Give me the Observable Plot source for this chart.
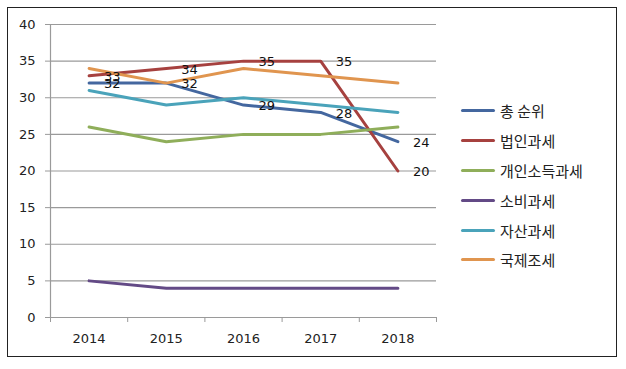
<!DOCTYPE html>
<html>
<head>
<meta charset="utf-8">
<script src="https://cdn.jsdelivr.net/npm/d3@7"></script>
<script src="https://cdn.jsdelivr.net/npm/@observablehq/plot@0.6"></script>
<style>
  html, body { margin: 0; padding: 0; background: #fff; }
  #wrap { position: relative; width: 626px; height: 369px; overflow: hidden; }
  #frame { position: absolute; left: 7px; top: 7px; width: 610px; height: 350px; border: 1.5px solid #222; box-sizing: border-box; pointer-events: none; }
  #legend { position: absolute; left: 461px; top: 96px; font-family: "Noto Sans CJK KR", "DejaVu Sans", sans-serif; font-size: 15px; color: #222; }
  .item { display: flex; align-items: center; height: 29.8px; }
  .sw { width: 34px; height: 3px; border-radius: 2px; margin-right: 5px; }
</style>
</head>
<body>
<div id="wrap">
  <div id="chart"></div>
  <div id="legend"></div>
  <div id="frame"></div>
</div>
<script>
const years = [2014, 2015, 2016, 2017, 2018];
const seriesNames = ["총 순위", "법인과세", "개인소득과세", "소비과세", "자산과세", "국제조세"];
const seriesColors = ["#44679f", "#a6413f", "#8fae5a", "#634a86", "#4aa3ba", "#e0954f"];
const totalRank = [32, 32, 29, 28, 24];
const corporateTax = [33, 34, 35, 35, 20];
const incomeTax = [26, 24, 25, 25, 26];
const consumptionTax = [5, 4, 4, 4, 4];
const assetTax = [31, 29, 30, 29, 28];
const intlTax = [34, 32, 34, 33, 32];
const yTicks = [0, 5, 10, 15, 20, 25, 30, 35, 40];
const labeledSeries = ["총 순위", "법인과세"];

const values = [totalRank, corporateTax, incomeTax, consumptionTax, assetTax, intlTax];
const rows = [];
seriesNames.forEach((name, i) => {
  years.forEach((yr, j) => rows.push({series: name, year: yr, value: values[i][j]}));
});
const labelRows = rows.filter(d => labeledSeries.includes(d.series));
const bounds = years.map(y => y - 0.5).concat([years[years.length - 1] + 0.5]);
const xDomain = [bounds[0], bounds[bounds.length - 1]];

const chart = Plot.plot({
  width: 626,
  height: 369,
  marginLeft: 50,
  marginRight: 190,
  marginTop: 24,
  marginBottom: 52,
  style: {fontFamily: "'DejaVu Sans', 'Noto Sans CJK KR', sans-serif", fontSize: "13px", background: "transparent", color: "#222"},
  x: {domain: xDomain, axis: null},
  y: {domain: [0, 40], axis: null},
  color: {domain: seriesNames, range: seriesColors},
  marks: [
    Plot.ruleY(yTicks, {stroke: "#9a9a9a", strokeWidth: 1.2}),
    Plot.ruleX([xDomain[0]], {stroke: "#9a9a9a", strokeWidth: 1.2}),
    Plot.axisY({ticks: yTicks, tickSize: 5, tickPadding: 10, stroke: "#9a9a9a", fill: "#222", strokeOpacity: 1, label: null}),
    Plot.axisX({ticks: bounds, tickSize: 5, tickFormat: () => "", stroke: "#9a9a9a", strokeOpacity: 1, label: null}),
    Plot.axisX({ticks: years, tickSize: 0, tickPadding: 16, tickFormat: "d", fill: "#222", label: null}),
    Plot.line(rows, {x: "year", y: "value", z: "series", stroke: "series", strokeWidth: 3}),
    Plot.text(labelRows, {x: "year", y: "value", text: d => String(d.value), dx: 15, dy: 1, textAnchor: "start", fill: "#111", fontSize: 13})
  ]
});
document.getElementById("chart").appendChild(chart);

const legend = document.getElementById("legend");
seriesNames.forEach((name, i) => {
  const item = document.createElement("div");
  item.className = "item";
  const sw = document.createElement("div");
  sw.className = "sw";
  sw.style.background = seriesColors[i];
  const label = document.createElement("span");
  label.textContent = name;
  item.appendChild(sw);
  item.appendChild(label);
  legend.appendChild(item);
});
</script>
</body>
</html>
